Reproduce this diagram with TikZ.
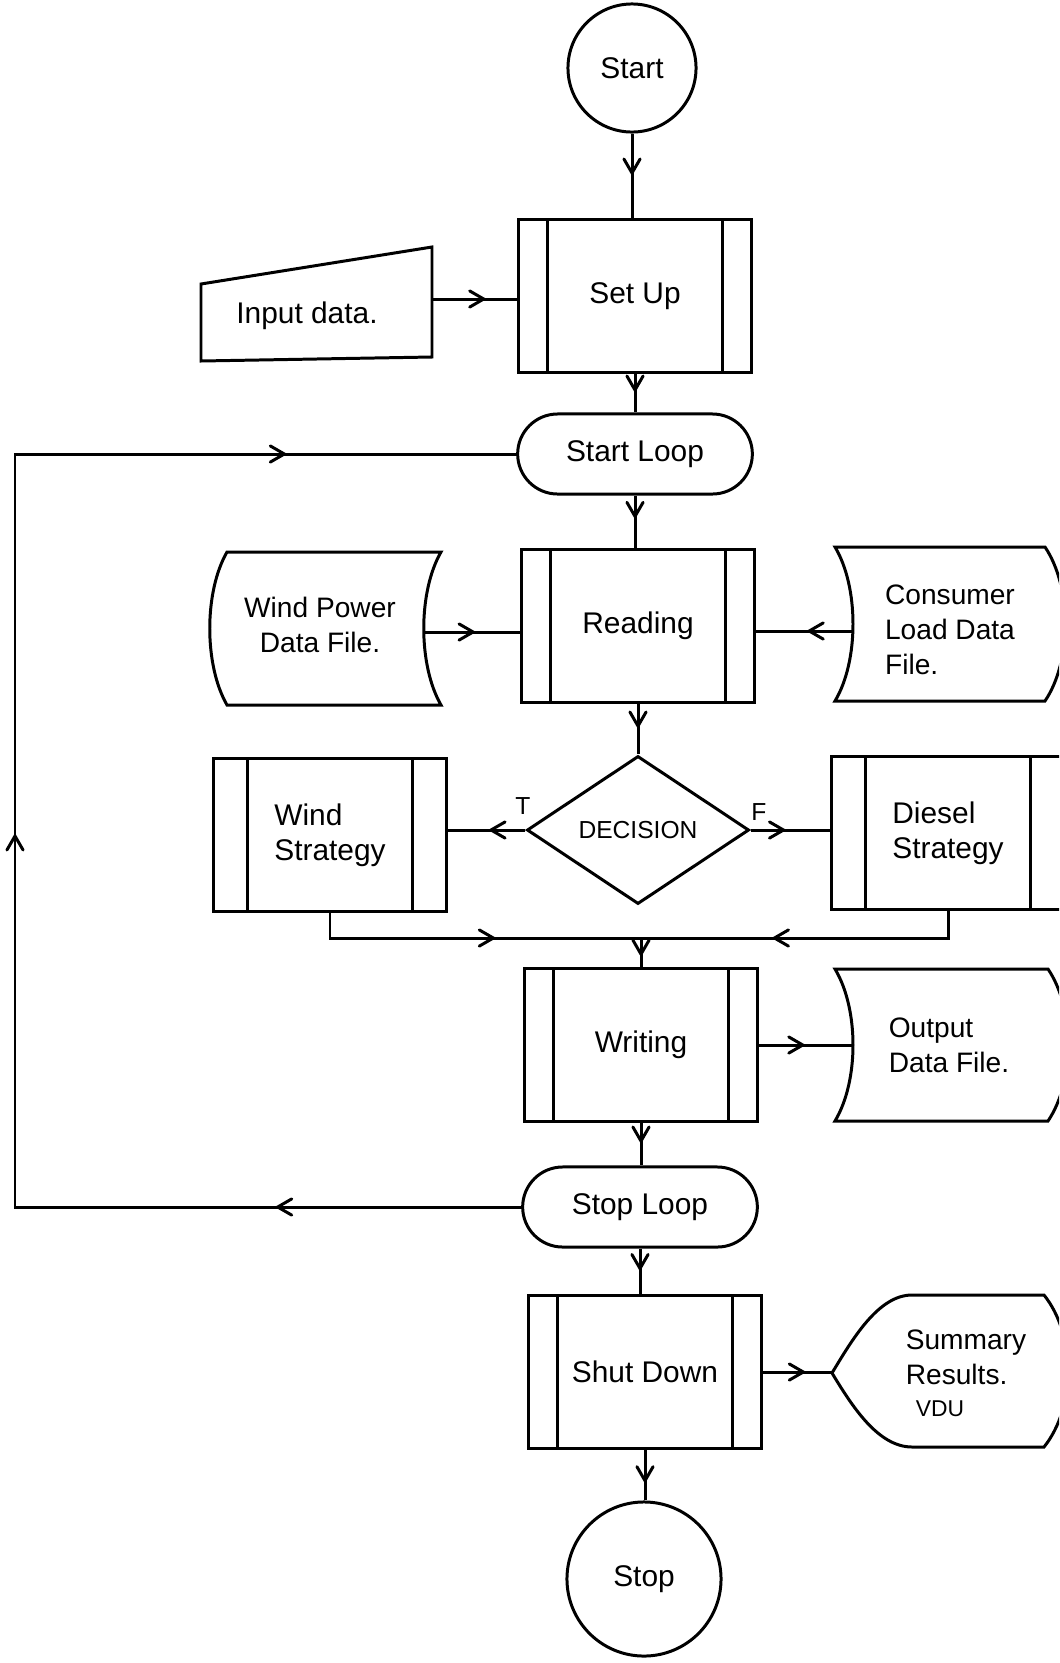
\documentclass[tikz,border=0pt]{standalone}
\usepackage{fontspec}
\setmainfont{Liberation Sans}
\usetikzlibrary{arrows,shapes.geometric,shapes.misc,decorations.markings}

\tikzset{
  flow/.style={postaction={decorate,decoration={markings,
      mark=at position #1 with {\arrow{>}}}}},
  flow/.default=0.5,
  procbox/.style={draw, minimum width=2.32cm, minimum height=1.52cm,
      inner sep=0pt, font=\fontsize{8.5}{10}\selectfont,
      path picture={\draw
        ([xshift=#1]path picture bounding box.north west) --
        ([xshift=#1]path picture bounding box.south west)
        ([xshift=-#1]path picture bounding box.north east) --
        ([xshift=-#1]path picture bounding box.south east);}},
  procbox/.default=0.29cm,
  loopbox/.style={draw, rounded rectangle, minimum width=2.58cm,
      minimum height=0.8cm, font=\fontsize{8.5}{10}\selectfont},
  termbox/.style={draw, circle, inner sep=0pt,
      font=\fontsize{8.5}{10}\selectfont},
  filetext/.style={align=left, font=\fontsize{8}{10}\selectfont},
}

\begin{document}
\begin{tikzpicture}[x=0.01cm,y=-0.01cm]
\useasboundingbox (0,0) rectangle (1059,1663);
\clip (0,0) rectangle (1059,1663);
\begin{scope}[>=angle 60, line width=0.85pt]

    % main column
    \node[termbox, minimum size=1.28cm] (start) at (632,68) {Start};
    \node[procbox] (setup) at (635,296) {Set Up};
    \node[loopbox] (startloop) at (635,454) {Start Loop};
    \node[procbox] (reading) at (638,626) {Reading};
    \node[draw, diamond, aspect=1.5, inner sep=0pt, minimum width=2.22cm,
          minimum height=1.48cm, font=\fontsize{7}{8}\selectfont]
          (decision) at (638,830) {DECISION};
    \node[procbox=0.34cm, align=left] (windstrat) at (330,835) {Wind\\Strategy};
    \node[procbox=0.34cm, align=left] (dieselstrat) at (948,833) {Diesel\\Strategy};
    \node[procbox] (writing) at (641,1045) {Writing};
    \node[loopbox] (stoploop) at (640,1207) {Stop Loop};
    \node[procbox] (shutdown) at (645,1372) {Shut Down};
    \node[termbox, minimum size=1.54cm] (stop) at (644,1579) {Stop};

    \node[font=\fontsize{7}{8}\selectfont] (tmark) at (523,806) {T};
    \node[font=\fontsize{7}{8}\selectfont] (fmark) at (759,812) {F};

    % input data
    \draw (201,284) -- (432,247) -- (432,357) -- (201,361) -- cycle;
    \node[font=\fontsize{8.5}{10}\selectfont] (input) at (307,316) {Input data.};
    \coordinate (inputout) at (432,299);

    % stored data files
    \draw (227,552) -- (441,552) .. controls (418,592) and (418,665) .. (441,705)
          -- (227,705) .. controls (204,665) and (204,592) .. (227,552) -- cycle;
    \node[filetext, align=center] (windfile) at (320,625) {Wind Power\\Data File.};
    \coordinate (windout) at (424,632);

    \draw (835,547) -- (1045,547) .. controls (1072,587) and (1072,661) .. (1045,701)
          -- (835,701) .. controls (859,661) and (859,587) .. (835,547) -- cycle;
    \node[filetext] (loadfile) at (950,630) {Consumer\\Load Data\\File.};
    \coordinate (loadin) at (853,631);

    \draw (835,969) -- (1048,969) .. controls (1075,1009) and (1075,1081) .. (1048,1121)
          -- (835,1121) .. controls (859,1081) and (859,1009) .. (835,969) -- cycle;
    \node[filetext] (outfile) at (949,1045) {Output\\Data File.};
    \coordinate (outin) at (853,1050);

    % display
    \draw (832,1373) .. controls (852,1340) and (878,1295) .. (912,1295)
          -- (1044,1295) .. controls (1076,1335) and (1076,1407) .. (1044,1447)
          -- (912,1447) .. controls (878,1447) and (852,1406) .. (832,1373) -- cycle;
    \node[filetext] (vdu) at (966,1373) {Summary\\Results.\\[-1pt]
          \hspace{0.1cm}{\fontsize{6.5}{8}\selectfont VDU}};
    \coordinate (vduin) at (832,1373);

    % connectors
    \draw[flow] (start.south) -- (start.south |- setup.north);
    \draw[flow=0.64] (inputout) -- (inputout -| setup.west);
    \draw[flow] (setup.south) -- (setup.south |- startloop.north);
    \draw[flow=0.45] (startloop.south) -- (startloop.south |- reading.north);
    \draw[flow=0.54] (windout) -- (windout -| reading.west);
    \draw[flow=0.48] (loadin) -- (loadin -| reading.east);
    \draw[flow] (reading.south) -- (reading.south |- decision.north);
    \draw[flow=0.48] (decision.west) -- (decision.west -| windstrat.east);
    \draw[flow=0.45] (decision.east) -- (decision.east -| dieselstrat.west);

    \coordinate (mergey) at (0,938);
    \coordinate (join) at (writing.north |- mergey);
    \draw[flow=0.57] (windstrat.south) |- (join);
    \draw[flow=0.61] (dieselstrat.south) |- (join);
    \draw[flow=0.65] (join) -- (writing.north);

    \draw[flow] (writing.east) -- (writing.east -| outin);
    \draw[flow] (writing.south) -- (writing.south |- stoploop.north);
    \draw[flow] (stoploop.south) -- (stoploop.south |- shutdown.north);
    \draw[flow=0.63] (shutdown.east) -- (shutdown.east -| vduin);
    \draw[flow=0.67] (shutdown.south) -- (shutdown.south |- stop.north);

    % loop back
    \coordinate (loopx) at (15,0);
    \draw[postaction={decorate,decoration={markings,
            mark=at position 0.14 with {\arrow{>}},
            mark=at position 0.5 with {\arrow{>}},
            mark=at position 0.87 with {\arrow{>}}}}]
        (stoploop.west) -| (loopx |- startloop.west) -- (startloop.west);
\end{scope}
\end{tikzpicture}
\end{document}
